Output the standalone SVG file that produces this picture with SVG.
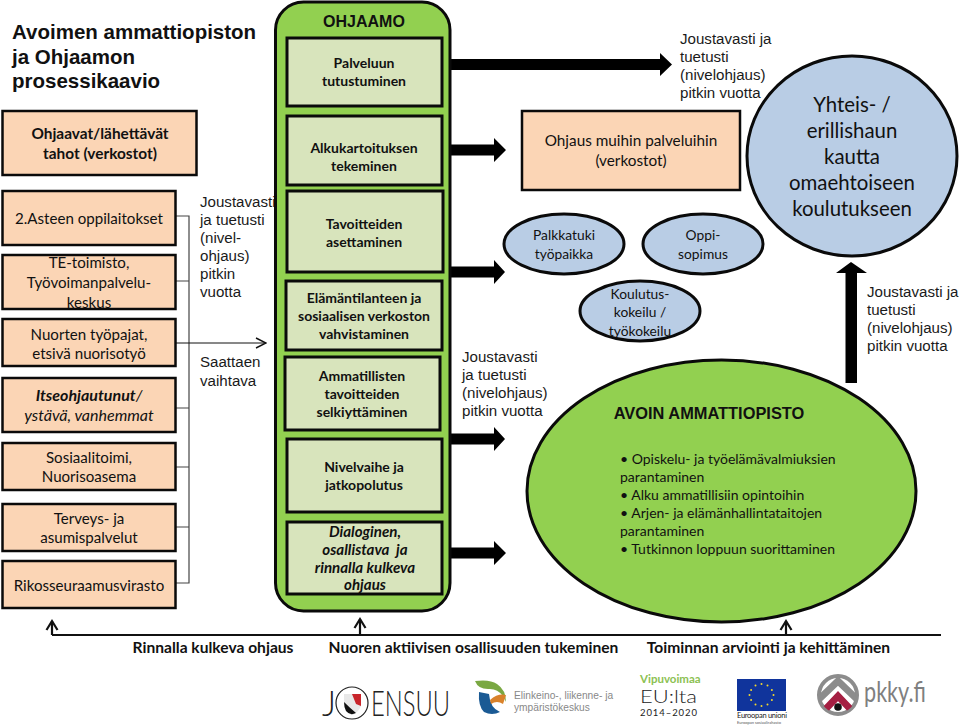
<svg xmlns="http://www.w3.org/2000/svg" width="960" height="726" viewBox="0 0 960 726">
<defs>
<style>
text{font-family:"Lato","Carlito","Noto Sans",sans-serif;font-size:15.1px;fill:#111;text-anchor:middle}
.ar{font-family:"Liberation Sans",Arial,sans-serif;font-size:15.1px;text-anchor:start;fill:#1a1a1a}
.head{font-family:"Liberation Sans",Arial,sans-serif;font-size:20.5px;font-weight:700;text-anchor:start;fill:#111}
.hb{font-family:"Liberation Sans",Arial,sans-serif;font-weight:700;font-size:16.4px}
.b{font-weight:700}
.i{font-style:italic}
.big{font-size:16px}
.pb{font-weight:700;font-size:15.4px}
.sb{font-weight:700;font-size:14px}
.si{font-weight:700;font-style:italic;font-size:15.1px}
.el{font-size:13.8px}
.bl{font-size:14px;text-anchor:start}
.yh{font-size:20.4px}
.fl{font-weight:700;font-size:15.6px}
.peach{fill:#fbd5b5;stroke:#0a0a0a;stroke-width:2.5}
.sage{fill:#d8e4bc;stroke:#0a0a0a;stroke-width:3}
.blue{fill:#b9cde5;stroke:#0a0a0a;stroke-width:3}
.green{fill:#92d050;stroke:#0a0a0a;stroke-width:3}
.tick{fill:none;stroke:#444;stroke-width:1.2}
.thin{fill:none;stroke:#111;stroke-width:2.2}
</style>
<marker id="open" viewBox="0 0 12 12" refX="11" refY="6" markerWidth="12" markerHeight="12" markerUnits="userSpaceOnUse" orient="auto"><path d="M1 1L11 6L1 11" fill="none" stroke="#111" stroke-width="1.4"/></marker>
<clipPath id="pk"><circle cx="838" cy="695" r="18"/></clipPath>
</defs>
<rect width="960" height="726" fill="#fff"/>

<g id="title"><text class="head" x="12" y="39">Avoimen ammattiopiston</text>
<text class="head" x="12" y="64">ja Ohjaamon</text>
<text class="head" x="12" y="88">prosessikaavio</text></g>

<g id="connectors">
<path class="tick" d="M176 216H189V583H176M176 281H189M176 408H189M176 467H189M176 527H189"/>
<path d="M176 343H266" fill="none" stroke="#111" stroke-width="1" marker-end="url(#open)"/>
<path d="M450 59H660V53L672 64.500L660 76V70H450Z" fill="#000"/>
<path d="M450 144.500H494V138L506 150L494 162V155.500H450Z" fill="#000"/>
<path d="M450 266.500H494V260L505 272L494 284V277.500H450Z" fill="#000"/>
<path d="M450 433.500H494V427L505 439L494 451V444.500H450Z" fill="#000"/>
<path d="M450 547.500H494V541L506 553L494 565V558.500H450Z" fill="#000"/>
<path d="M845.500 383V273H836L851 262L867 273H857V383Z" fill="#000"/>
<path class="thin" d="M52 635H941M52 635V621M360 635V619M786 635V621"/>
<path class="thin" d="M46.500 630L52 621L57.500 630M354.500 628L360 619L365.500 628M780.500 630L786 621L791.500 630"/>
</g>

<g id="n-ohjaavat"><rect class="peach" x="2.500" y="111" width="194" height="64"/><text class="pb" x="100" y="139">Ohjaavat/lähettävät</text><text class="pb" x="100" y="159">tahot (verkostot)</text></g>
<g id="n-asteen"><rect class="peach" x="2.500" y="191" width="173" height="54"/><text x="89" y="224">2.Asteen oppilaitokset</text></g>
<g id="n-te"><rect class="peach" x="2.500" y="255" width="173" height="54"/><text x="89" y="268">TE-toimisto,</text><text x="89" y="288">Työvoimanpalvelu-</text><text x="89" y="308">keskus</text></g>
<g id="n-nuorten"><rect class="peach" x="2.500" y="319" width="173" height="47"/><text x="89" y="340">Nuorten työpajat,</text><text x="89" y="359">etsivä nuorisotyö</text></g>
<g id="n-itse"><rect class="peach" x="2.500" y="378" width="173" height="54"/><text class="big" x="89" y="401"><tspan class="b i">Itseohjautunut</tspan><tspan class="i">/</tspan></text><text class="i big" x="89" y="421">ystävä, vanhemmat</text></g>
<g id="n-sosiaali"><rect class="peach" x="2.500" y="443" width="173" height="47"/><text x="89" y="463">Sosiaalitoimi,</text><text x="89" y="482">Nuorisoasema</text></g>
<g id="n-terveys"><rect class="peach" x="2.500" y="504" width="173" height="47"/><text x="89" y="524">Terveys- ja</text><text x="89" y="543">asumispalvelut</text></g>
<g id="n-rikos"><rect class="peach" x="2.500" y="561" width="173" height="47"/><text x="89" y="591">Rikosseuraamusvirasto</text></g>

<g id="l-nivel"><text class="ar" x="200" y="207">Joustavasti</text><text class="ar" x="200" y="225">ja tuetusti</text><text class="ar" x="200" y="243">(nivel-</text><text class="ar" x="200" y="261">ohjaus)</text><text class="ar" x="200" y="279">pitkin</text><text class="ar" x="200" y="297">vuotta</text></g>
<g id="l-saattaen"><text class="ar" x="200" y="367">Saattaen</text><text class="ar" x="200" y="386">vaihtava</text></g>

<g id="n-ohjaamo"><rect class="green" x="275.500" y="2" width="174.500" height="609" rx="28"/>
<text class="hb" style="font-size:16px" x="364" y="27">OHJAAMO</text></g>
<g id="n-palveluun"><rect class="sage" x="287" y="38" width="155" height="68"/><text class="sb" x="364" y="68">Palveluun</text><text class="sb" x="364" y="86">tutustuminen</text></g>
<g id="n-alku"><rect class="sage" x="287" y="116" width="155" height="69"/><text class="sb" x="364" y="153">Alkukartoituksen</text><text class="sb" x="364" y="171">tekeminen</text></g>
<g id="n-tav"><rect class="sage" x="287" y="191" width="156" height="81"/><text class="sb" x="364" y="229">Tavoitteiden</text><text class="sb" x="364" y="247">asettaminen</text></g>
<g id="n-elam"><rect class="sage" x="286" y="281" width="156" height="69"/><text class="sb" x="364" y="303">Elämäntilanteen ja</text><text class="sb" x="364" y="321">sosiaalisen verkoston</text><text class="sb" x="364" y="339">vahvistaminen</text></g>
<g id="n-amm"><rect class="sage" x="285" y="357" width="155" height="73"/><text class="sb" x="362" y="381">Ammatillisten</text><text class="sb" x="362" y="399">tavoitteiden</text><text class="sb" x="362" y="417">selkiyttäminen</text></g>
<g id="n-nivel"><rect class="sage" x="287" y="439" width="155" height="73"/><text class="sb" x="364" y="472">Nivelvaihe ja</text><text class="sb" x="364" y="490">jatkopolutus</text></g>
<g id="n-dial"><rect class="sage" x="287" y="522" width="155" height="72"/><text class="si" x="365" y="537">Dialoginen,</text><text class="si" x="365" y="555" xml:space="preserve">osallistava  ja</text><text class="si" x="365" y="573">rinnalla kulkeva</text><text class="si" x="365" y="590">ohjaus</text></g>

<g id="l-top"><text class="ar" x="680" y="44">Joustavasti ja</text><text class="ar" x="680" y="62">tuetusti</text><text class="ar" x="680" y="80">(nivelohjaus)</text><text class="ar" x="680" y="98">pitkin vuotta</text></g>
<g id="l-mid"><text class="ar" x="462" y="362">Joustavasti</text><text class="ar" x="462" y="380">ja tuetusti</text><text class="ar" x="462" y="398">(nivelohjaus)</text><text class="ar" x="462" y="416">pitkin vuotta</text></g>
<g id="l-right"><text class="ar" x="867" y="297">Joustavasti ja</text><text class="ar" x="867" y="315">tuetusti</text><text class="ar" x="867" y="333">(nivelohjaus)</text><text class="ar" x="867" y="351">pitkin vuotta</text></g>

<g id="n-muihin"><rect class="peach" x="522" y="111" width="218" height="79"/><text style="font-size:15.300px" x="631" y="146">Ohjaus muihin palveluihin</text><text style="font-size:15.300px" x="631" y="166">(verkostot)</text></g>
<g id="n-yhteis"><ellipse class="blue" cx="852" cy="156" rx="105" ry="100"/><text class="yh" x="852" y="112">Yhteis- /</text><text class="yh" x="852" y="138">erillishaun</text><text class="yh" x="852" y="164">kautta</text><text class="yh" x="852" y="190">omaehtoiseen</text><text class="yh" x="852" y="216">koulutukseen</text></g>
<g id="n-palkka"><ellipse class="blue" cx="564" cy="244" rx="60" ry="30"/><text class="el" x="564" y="240">Palkkatuki</text><text class="el" x="564" y="259">työpaikka</text></g>
<g id="n-oppi"><ellipse class="blue" cx="703" cy="244" rx="60" ry="30"/><text class="el" x="703" y="240">Oppi-</text><text class="el" x="703" y="259">sopimus</text></g>
<g id="n-koulutus"><ellipse class="blue" cx="640" cy="311" rx="60" ry="30"/><text class="el" x="640" y="299">Koulutus-</text><text class="el" x="640" y="317">kokeilu /</text><text class="el" x="640" y="336">työkokeilu</text></g>

<g id="n-avoin"><ellipse class="green" cx="721.500" cy="491" rx="194.500" ry="131"/>
<text class="hb" x="709" y="419">AVOIN AMMATTIOPISTO</text>
<text class="bl" x="620" y="464">• Opiskelu- ja työelämävalmiuksien</text><text class="bl" x="620" y="482">parantaminen</text><text class="bl" x="620" y="500">• Alku ammatillisiin opintoihin</text><text class="bl" x="620" y="518">• Arjen- ja elämänhallintataitojen</text><text class="bl" x="620" y="536">parantaminen</text><text class="bl" x="620" y="554">• Tutkinnon loppuun suorittaminen</text></g>

<g id="footer-labels"><text class="fl" x="213" y="653">Rinnalla kulkeva ohjaus</text><text class="fl" x="473.500" y="653">Nuoren aktiivisen osallisuuden tukeminen</text><text class="fl" x="768.500" y="653">Toiminnan arviointi ja kehittäminen</text></g>

<g id="logos">
<text style="font-weight:300;font-size:36px;text-anchor:start;fill:#222" x="322" y="716" textLength="14" lengthAdjust="spacingAndGlyphs">J</text>
<circle cx="352" cy="703" r="16" fill="#fff" stroke="#222" stroke-width="1.2"/>
<path d="M344 694H361V706Q358 713 352 715Q346 713 344 706Z" fill="#e8e8e8"/><path d="M352 694H361V706L356 704Z" fill="#c8242a"/><path d="M344 702Q350 708 356 713Q350 716 346 711Q344 707 344 702Z" fill="#111"/>
<text style="font-weight:300;font-size:36px;text-anchor:start;fill:#222" x="371" y="716" textLength="79" lengthAdjust="spacingAndGlyphs">ENSUU</text>

<path d="M475 681Q490 679 497 684Q506 690 506 702L503 696Q497 688 488 689Q478 689 475 681Z" fill="#7aa843"/>
<path d="M479 692Q478 706 484 712Q492 716 500 712Q490 708 489 694Z" fill="#1a5a94"/>
<path d="M490 700Q498 693 506 695L503 704Q497 700 491 704Z" fill="#d9822b"/>
<text style="font-family:'Liberation Sans',Arial,sans-serif;font-size:10.200px;text-anchor:start;fill:#888" x="514" y="699">Elinkeino-, liikenne- ja</text>
<text style="font-family:'Liberation Sans',Arial,sans-serif;font-size:10.200px;text-anchor:start;fill:#888" x="514" y="711">ympäristökeskus</text>

<text class="b" style="font-size:11.500px;text-anchor:start;fill:#8cc152" x="640" y="683">Vipuvoimaa</text>
<text style="font-weight:300;font-size:17px;text-anchor:start;fill:#222" x="640" y="703" textLength="57" lengthAdjust="spacingAndGlyphs">EU:lta</text>
<text style="font-size:9.500px;text-anchor:start;fill:#222" x="640" y="716" textLength="57">2014–2020</text>

<rect x="737" y="679" width="49" height="32" fill="#10349c"/>
<g fill="#f3d82e"><circle cx="761.500" cy="684" r="1"/><circle cx="767.500" cy="685.600" r="1"/><circle cx="771.900" cy="690" r="1"/><circle cx="773.500" cy="695" r="1"/><circle cx="771.900" cy="700" r="1"/><circle cx="767.500" cy="704.400" r="1"/><circle cx="761.500" cy="706" r="1"/><circle cx="755.500" cy="704.400" r="1"/><circle cx="751.100" cy="700" r="1"/><circle cx="749.500" cy="695" r="1"/><circle cx="751.100" cy="690" r="1"/><circle cx="755.500" cy="685.600" r="1"/></g>
<text style="font-size:7.500px;text-anchor:start;fill:#222" x="737" y="718" textLength="50">Euroopan unioni</text>
<text style="font-size:4px;text-anchor:start;fill:#555" x="737" y="724" textLength="44">Euroopan sosiaalirahasto</text>

<circle cx="838" cy="695" r="19" fill="#fff" stroke="#8c8c8c" stroke-width="4"/>
<g clip-path="url(#pk)" fill="none" stroke-width="7"><path d="M814 704L838 681L862 704" stroke="#8c8c8c"/><path d="M820 715L838 696L856 715" stroke="#a51f42"/></g>
<circle cx="838" cy="707" r="3.800" fill="#111"/>
<text style="font-size:28px;text-anchor:start;fill:#7f7f7f" x="864" y="702" textLength="62" lengthAdjust="spacingAndGlyphs">pkky.fi</text>
</g>
</svg>
